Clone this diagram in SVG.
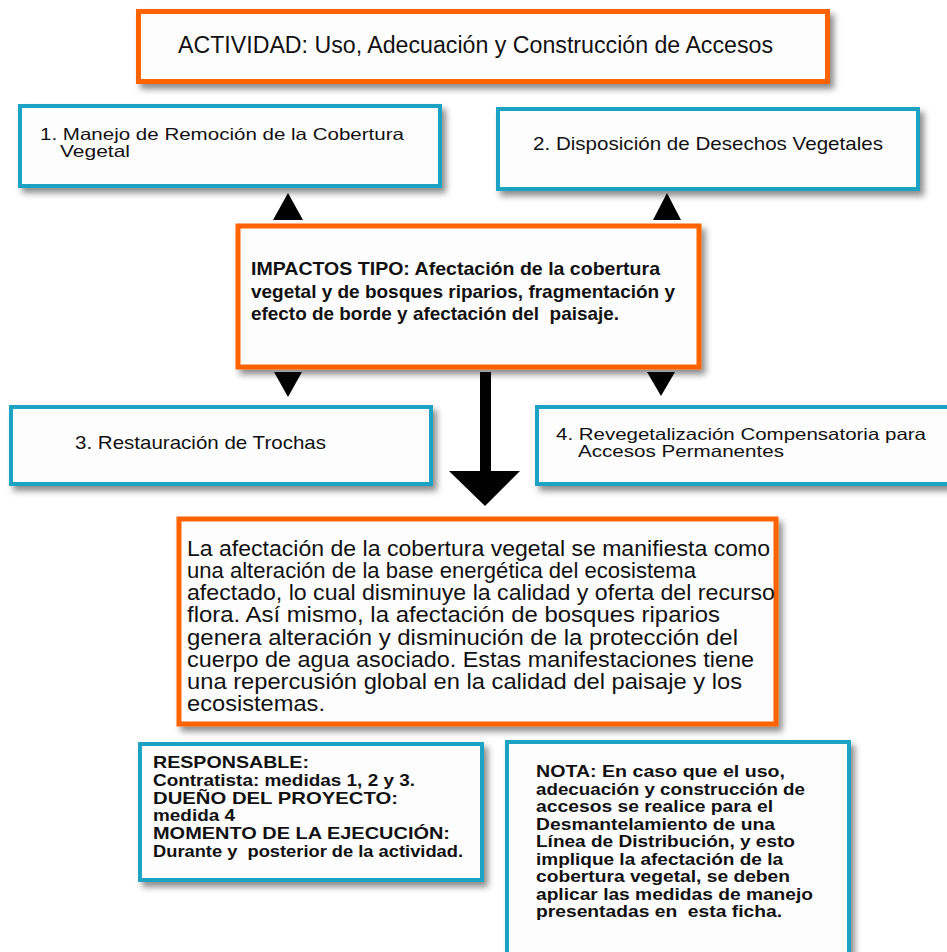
<svg xmlns="http://www.w3.org/2000/svg" width="947" height="952" viewBox="0 0 947 952">
<defs>
<filter id="sh" x="-10%" y="-10%" width="125%" height="130%">
<feDropShadow dx="4" dy="5" stdDeviation="3" flood-color="#000" flood-opacity="0.45"/>
</filter>
</defs>
<style>
.o{fill:#fdfdfd;stroke:#ff6400;stroke-width:5;filter:url(#sh)}
.c{fill:#fdfdfd;stroke:#1aa2c2;stroke-width:4;filter:url(#sh)}
text{font-family:"Liberation Sans",Arial,sans-serif;fill:#111;white-space:pre}
.r{font-size:19px}
.r2{font-size:16.5px}
.t{font-size:23px}
.b{font-size:16.5px;font-weight:bold}
.i{font-size:18.5px;font-weight:bold}
.m{font-size:21.5px}
.k{fill:#000}
</style>
<rect width="947" height="952" fill="#fff"/>
<g id="connectors">
<polygon class="k" points="273,220 303,220 288,193"/>
<polygon class="k" points="653,220 681,220 667,193"/>
<polygon class="k" points="274,372 302,372 288,397"/>
<polygon class="k" points="647,372 675,372 661,396"/>
<rect class="k" x="480" y="372" width="11" height="100"/>
<polygon class="k" points="449,471 520,471 485,506"/>
</g>
<g id="actividad">
<rect class="o" x="138.5" y="11.5" width="689" height="70"/>
<text class="t" x="178" y="53" textLength="595" lengthAdjust="spacingAndGlyphs">ACTIVIDAD: Uso, Adecuación y Construcción de Accesos</text>
</g>
<g id="medida1">
<rect class="c" x="20" y="106" width="420" height="80"/>
<text class="r2" x="40" y="140" textLength="364" lengthAdjust="spacingAndGlyphs">1. Manejo de Remoción de la Cobertura</text>
<text class="r2" x="60" y="157" textLength="70" lengthAdjust="spacingAndGlyphs">Vegetal</text>
</g>
<g id="medida2">
<rect class="c" x="498" y="109" width="420" height="80"/>
<text class="r" x="533" y="150" textLength="350" lengthAdjust="spacingAndGlyphs">2. Disposición de Desechos Vegetales</text>
</g>
<g id="impactos">
<rect class="o" x="238" y="226" width="461" height="141"/>
<text class="i" x="251" y="275" textLength="409" lengthAdjust="spacingAndGlyphs">IMPACTOS TIPO: Afectación de la cobertura</text>
<text class="i" x="251" y="298" textLength="424" lengthAdjust="spacingAndGlyphs">vegetal y de bosques riparios, fragmentación y</text>
<text class="i" x="251" y="320" textLength="368" lengthAdjust="spacingAndGlyphs">efecto de borde y afectación del  paisaje.</text>
</g>
<g id="medida3">
<rect class="c" x="11" y="407" width="420" height="77"/>
<text class="r" x="75" y="449" textLength="251" lengthAdjust="spacingAndGlyphs">3. Restauración de Trochas</text>
</g>
<g id="medida4">
<rect class="c" x="537" y="407" width="420" height="77"/>
<text class="r2" x="556" y="440" textLength="370" lengthAdjust="spacingAndGlyphs">4. Revegetalización Compensatoria para</text>
<text class="r2" x="578" y="457" textLength="206" lengthAdjust="spacingAndGlyphs">Accesos Permanentes</text>
</g>
<g id="manifestacion">
<rect class="o" x="179" y="519" width="597" height="205"/>
<text class="m" x="187" y="556" textLength="583" lengthAdjust="spacingAndGlyphs">La afectación de la cobertura vegetal se manifiesta como</text>
<text class="m" x="187" y="578" textLength="509" lengthAdjust="spacingAndGlyphs">una alteración de la base energética del ecosistema</text>
<text class="m" x="187" y="600" textLength="588" lengthAdjust="spacingAndGlyphs">afectado, lo cual disminuye la calidad y oferta del recurso</text>
<text class="m" x="187" y="622" textLength="533" lengthAdjust="spacingAndGlyphs">flora. Así mismo, la afectación de bosques riparios</text>
<text class="m" x="187" y="645" textLength="551" lengthAdjust="spacingAndGlyphs">genera alteración y disminución de la protección del</text>
<text class="m" x="187" y="667" textLength="567" lengthAdjust="spacingAndGlyphs">cuerpo de agua asociado. Estas manifestaciones tiene</text>
<text class="m" x="187" y="689" textLength="555" lengthAdjust="spacingAndGlyphs">una repercusión global en la calidad del paisaje y los</text>
<text class="m" x="187" y="711" textLength="138" lengthAdjust="spacingAndGlyphs">ecosistemas.</text>
</g>
<g id="responsable">
<rect class="c" x="140" y="744" width="342" height="136"/>
<text class="b" x="153" y="768" textLength="156" lengthAdjust="spacingAndGlyphs">RESPONSABLE:</text>
<text class="b" x="153" y="786" textLength="262" lengthAdjust="spacingAndGlyphs">Contratista: medidas 1, 2 y 3.</text>
<text class="b" x="153" y="804" textLength="245" lengthAdjust="spacingAndGlyphs">DUEÑO DEL PROYECTO:</text>
<text class="b" x="153" y="821" textLength="82" lengthAdjust="spacingAndGlyphs">medida 4</text>
<text class="b" x="153" y="839" textLength="297" lengthAdjust="spacingAndGlyphs">MOMENTO DE LA EJECUCIÓN:</text>
<text class="b" x="153" y="857" textLength="310" lengthAdjust="spacingAndGlyphs">Durante y  posterior de la actividad.</text>
</g>
<g id="nota">
<rect class="c" x="507" y="742" width="342" height="220"/>
<text class="b" x="536" y="777" textLength="249" lengthAdjust="spacingAndGlyphs">NOTA: En caso que el uso,</text>
<text class="b" x="536" y="794.5" textLength="269" lengthAdjust="spacingAndGlyphs">adecuación y construcción de</text>
<text class="b" x="536" y="812" textLength="237" lengthAdjust="spacingAndGlyphs">accesos se realice para el</text>
<text class="b" x="536" y="829.5" textLength="239" lengthAdjust="spacingAndGlyphs">Desmantelamiento de una</text>
<text class="b" x="536" y="847" textLength="259" lengthAdjust="spacingAndGlyphs">Línea de Distribución, y esto</text>
<text class="b" x="536" y="864.5" textLength="247" lengthAdjust="spacingAndGlyphs">implique la afectación de la</text>
<text class="b" x="536" y="882" textLength="254" lengthAdjust="spacingAndGlyphs">cobertura vegetal, se deben</text>
<text class="b" x="536" y="899.5" textLength="277" lengthAdjust="spacingAndGlyphs">aplicar las medidas de manejo</text>
<text class="b" x="536" y="917" textLength="246" lengthAdjust="spacingAndGlyphs">presentadas en  esta ficha.</text>
</g>
</svg>
